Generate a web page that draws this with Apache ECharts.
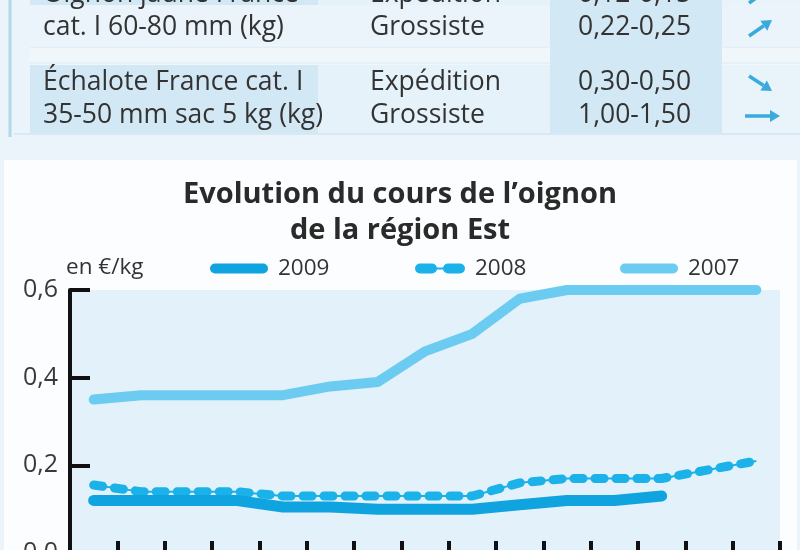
<!DOCTYPE html>
<html>
<head>
<meta charset="utf-8">
<script src="https://cdn.jsdelivr.net/npm/echarts@6/dist/echarts.min.js"></script>
<style>html,body{margin:0;padding:0;background:#eaf4fa}#c{width:800px;height:550px}</style>
</head>
<body>
<div id="c"></div>
<script>
// ---- data ----
var categories = ['S1','S2','S3','S4','S5','S6','S7','S8','S9','S10','S11','S12','S13','S14','S15'];
var values2009 = [0.12, 0.12, 0.12, 0.12, 0.105, 0.105, 0.10, 0.10, 0.10, 0.11, 0.12, 0.12, 0.13, null, null];
var values2008 = [0.155, 0.14, 0.14, 0.14, 0.13, 0.13, 0.13, 0.13, 0.13, 0.16, 0.17, 0.17, 0.17, 0.19, 0.21];
var values2007 = [0.35, 0.36, 0.36, 0.36, 0.36, 0.38, 0.39, 0.46, 0.50, 0.58, 0.60, 0.60, 0.60, 0.60, 0.60];
var yTicks = [0, 0.2, 0.4, 0.6];
var seriesNames = ['2009', '2008', '2007'];

// table above the chart (partially cropped in the reference)
var tableProducts = [
  ['Oignon jaune France', 'cat. I 60-80 mm (kg)'],
  ['Échalote France cat. I', '35-50 mm sac 5 kg (kg)']
];
var tableStages = [['Expédition', 'Grossiste'], ['Expédition', 'Grossiste']];
var tablePrices = [['0,12-0,15', '0,22-0,25'], ['0,30-0,50', '1,00-1,50']];
var tableTrends = [['up', 'up'], ['down', 'flat']];

var titleText = 'Evolution du cours de l\u2019oignon\nde la région Est';
var unitText = 'en €/kg';

// ---- styles ----
var FONT = 'Open Sans';
var C2009 = '#0fa3df', C2008 = '#1ab2e8', C2007 = '#6ccbf1';
var cellDark = '#d3e8f5', cellLight = '#e5f2f9', pageBg = '#eaf4fa';
var arrowColor = '#3aaadd';

var graphics = [];
graphics.push({type:'rect', shape:{x:0,y:0,width:800,height:160}, style:{fill:pageBg}, silent:true});
graphics.push({type:'rect', shape:{x:0,y:160,width:4,height:390}, style:{fill:pageBg}, silent:true});
graphics.push({type:'rect', shape:{x:797,y:160,width:3,height:390}, style:{fill:pageBg}, silent:true});
var rowsY = [[-40, 45], [65, 68]];
rowsY.forEach(function(r){
  graphics.push({type:'rect', shape:{x:30,y:r[0],width:288,height:r[1]}, style:{fill:cellDark}, silent:true});
  graphics.push({type:'rect', shape:{x:318,y:r[0],width:232,height:r[1]}, style:{fill:cellLight}, silent:true});
  graphics.push({type:'rect', shape:{x:722,y:r[0],width:78,height:r[1]}, style:{fill:'#e9f4fa'}, silent:true});
});
graphics.push({type:'rect', shape:{x:30,y:45,width:770,height:20}, style:{fill:'#eff7fb'}, silent:true});
graphics.push({type:'line', shape:{x1:30,y1:47,x2:800,y2:47}, style:{stroke:'#d8eaf5',lineWidth:1}, silent:true});
graphics.push({type:'line', shape:{x1:30,y1:63,x2:800,y2:63}, style:{stroke:'#d8eaf5',lineWidth:1}, silent:true});
graphics.push({type:'rect', shape:{x:550,y:0,width:172,height:133}, style:{fill:cellDark}, silent:true});
graphics.push({type:'line', shape:{x1:14,y1:134,x2:800,y2:134}, style:{stroke:'#d6e9f4',lineWidth:2}, silent:true});
graphics.push({type:'line', shape:{x1:10,y1:0,x2:10,y2:137}, style:{stroke:'#b3d8ec',lineWidth:3}, silent:true});

function addText(t, x, y, size, weight, color){
  graphics.push({type:'text', x:x, y:y, silent:true,
    style:{text:t, fontFamily:FONT, fontSize:size, fontWeight:weight||'normal', fill:color||'#333', align:'left', verticalAlign:'middle'}});
}
var lineY = [[-6, 27], [82, 115]];
for (var r = 0; r < 2; r++) {
  for (var l = 0; l < 2; l++) {
    addText(tableProducts[r][l], 43, lineY[r][l], 26.5);
    addText(tableStages[r][l], 370, lineY[r][l], 26.5);
    addText(tablePrices[r][l], 578, lineY[r][l], 26.5);
  }
}
function addArrow(x1, y1, x2, y2){
  var dx = x2-x1, dy = y2-y1, len = Math.sqrt(dx*dx+dy*dy), ux = dx/len, uy = dy/len;
  var hl = 10, hw = 6;
  var bx = x2-ux*hl, by = y2-uy*hl;
  graphics.push({type:'line', shape:{x1:x1,y1:y1,x2:bx,y2:by}, style:{stroke:arrowColor,lineWidth:3.5}, silent:true});
  graphics.push({type:'polygon', shape:{points:[[x2,y2],[bx-uy*hw,by+ux*hw],[bx+uy*hw,by-ux*hw]]}, style:{fill:arrowColor}, silent:true});
}
for (var r2 = 0; r2 < 2; r2++) {
  for (var l2 = 0; l2 < 2; l2++) {
    var cy = lineY[r2][l2] + 1, tr = tableTrends[r2][l2];
    if (tr === 'up') addArrow(749, cy+8, 772, cy-8);
    else if (tr === 'down') addArrow(749, cy-7, 772, cy+8);
    else addArrow(745, cy, 780, cy);
  }
}
addText(unitText, 66, 268, 22.5, 'normal', '#333');

var roundBar = 'path://M5,0H53A5,5,0,0,1,53,10H5A5,5,0,0,1,5,0Z';
var dashIcon = 'path://M5,0H17A5,5,0,0,1,17,10H5A5,5,0,0,1,5,0Z M21,4H29V6H21Z M33,0H45A5,5,0,0,1,45,10H33A5,5,0,0,1,33,0Z';

function legendFor(name, left, icon, w){
  return {data:[{name:name, icon:icon}], left:left, top:257, padding:0, itemWidth:w, itemHeight:10, itemGap:0,
    textStyle:{fontFamily:FONT, fontSize:22.5, color:'#333', padding:[0,0,0,5]}, selectedMode:false};
}

var chart = echarts.init(document.getElementById('c'), null, {renderer:'canvas'});
chart.setOption({
  backgroundColor:'#fbfdfe',
  animation:false,
  title:{text:titleText, left:'center', top:177, padding:0,
    textStyle:{fontFamily:FONT, fontSize:29, fontWeight:'bold', color:'#2a2a2a', lineHeight:36}},
  legend:[legendFor(seriesNames[0], 210, roundBar, 58), legendFor(seriesNames[1], 415, dashIcon, 50), legendFor(seriesNames[2], 620, roundBar, 58)],
  grid:{left:70, top:290, width:710, height:263, show:true, backgroundColor:'#e2f1fa', borderWidth:0,
    containLabel:false, outerBoundsMode:'none'},
  xAxis:{type:'category', data:categories, boundaryGap:true,
    axisLine:{show:true, lineStyle:{color:'#111', width:4}},
    axisTick:{show:true, inside:true, length:12, interval:0, lineStyle:{color:'#111', width:4}},
    axisLabel:{show:false}, splitLine:{show:false}},
  yAxis:{type:'value', min:yTicks[0], max:yTicks[yTicks.length-1], interval:0.2,
    axisLine:{show:true, lineStyle:{color:'#111', width:4}},
    axisTick:{show:true, inside:true, length:20, lineStyle:{color:'#111', width:4}},
    splitLine:{show:false},
    axisLabel:{margin:12, fontFamily:FONT, fontSize:25, color:'#3a3a3a',
      formatter:function(v){return v.toFixed(1).replace('.', ',');}}},
  graphic:{elements:graphics},
  series:[
    {name:'2007', type:'line', data:values2007, symbol:'none', itemStyle:{color:C2007},
      lineStyle:{color:C2007, width:10, cap:'round', join:'round'}, z:2},
    {name:'2008-link', type:'line', data:values2008, symbol:'none', itemStyle:{color:C2008},
      lineStyle:{color:C2008, width:2}, z:3},
    {name:'2008', type:'line', data:values2008, symbol:'none', itemStyle:{color:C2008},
      lineStyle:{color:C2008, width:9, type:[9,12], cap:'round', join:'round'}, z:3},
    {name:'2009', type:'line', data:values2009, symbol:'none', itemStyle:{color:C2009},
      lineStyle:{color:C2009, width:11, cap:'round', join:'round'}, z:4}
  ]
});
</script>
</body>
</html>
